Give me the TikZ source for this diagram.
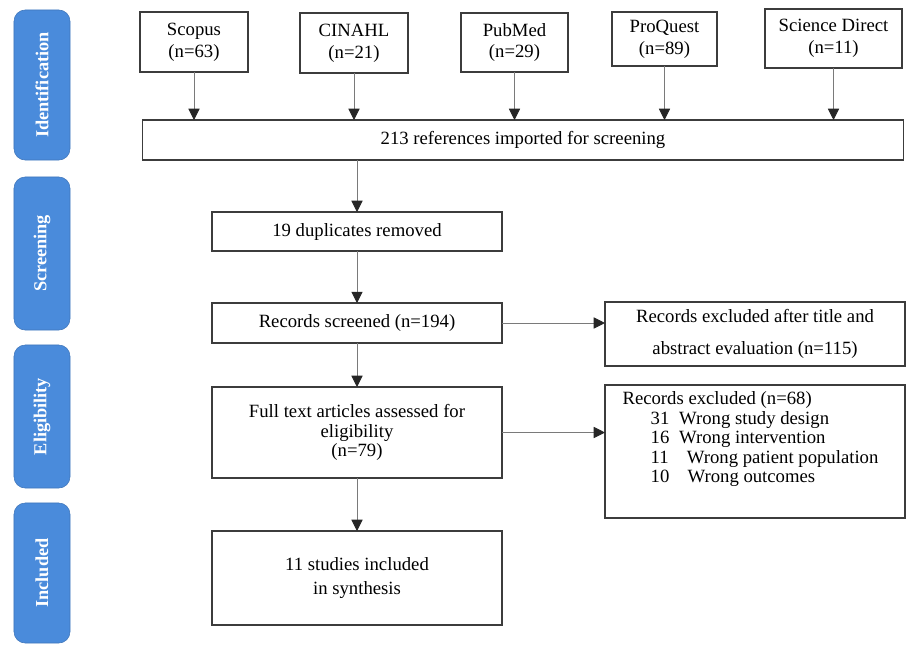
\documentclass[tikz,border=0pt]{standalone}
\usepackage{fontspec}
\setmainfont{Liberation Serif}
\usetikzlibrary{arrows.meta}
\definecolor{phaseblue}{HTML}{4A8BDB}
\definecolor{boxgray}{HTML}{3C3C3C}
\definecolor{linegray}{HTML}{7A7A7A}

\begin{document}
\begin{tikzpicture}[x=0.025cm,y=-0.025cm,
    every node/.style={font=\fontsize{13.3}{14}\selectfont,inner sep=0pt,outer sep=0pt},
    phase/.style={fill=phaseblue,draw=phaseblue!85!black,rounded corners=8pt,minimum height=1.4cm,rotate=90,text=white,font=\fontsize{13}{15}\selectfont\bfseries},
    flowbox/.style={draw=boxgray,line width=0.8pt,align=center},
    srcbox/.style={flowbox,font=\fontsize{13.3}{15.5}\selectfont},
    arr/.style={draw=linegray,line width=0.6pt,-{Triangle[width=8pt,length=8pt,color=black!85]}}]
    \useasboundingbox (0,0) rectangle (906,645);

    % phases
    \node[phase,minimum width=3.75cm] (ident) at (42,85) {Identification};
    \node[phase,minimum width=3.825cm] (screen) at (42,253.5) {Screening};
    \node[phase,minimum width=3.575cm] (elig) at (42,416.5) {Eligibility};
    \node[phase,minimum width=3.5cm] (incphase) at (42,573) {Included};

    % databases
    \node[srcbox,minimum width=2.7cm,minimum height=1.5cm] (scopus) at (194,42) {Scopus\\(n=63)};
    \node[srcbox,minimum width=2.7cm,minimum height=1.5cm] (cinahl) at (354,43) {CINAHL\\(n=21)};
    \node[srcbox,minimum width=2.675cm,minimum height=1.475cm] (pubmed) at (514.5,42.5) {PubMed\\(n=29)};
    \node[srcbox,minimum width=2.625cm,minimum height=1.35cm] (proquest) at (664.5,39) {ProQuest\\(n=89)};
    \node[srcbox,minimum width=3.425cm,minimum height=1.475cm] (scidir) at (833.5,38.5) {Science Direct\\(n=11)};

    % main flow
    \node[flowbox,minimum width=19cm,minimum height=1cm] (refs) at (523,140) {213 references imported for screening};
    \node[flowbox,minimum width=7.25cm,minimum height=0.975cm] (dup) at (357,231.5) {19 duplicates removed};
    \node[flowbox,minimum width=7.25cm,minimum height=1cm] (screened) at (357,323) {Records screened (n=194)};
    \node[flowbox,minimum width=7.25cm,minimum height=2.275cm,font=\fontsize{13.3}{14}\selectfont] (fulltext) at (357,432.5) {Full text articles assessed for\\eligibility\\(n=79)};
    \node[flowbox,minimum width=7.25cm,minimum height=2.35cm,font=\fontsize{13.3}{16.5}\selectfont] (incl) at (357,578) {11 studies included\\in synthesis};

    % exclusions
    \node[flowbox,minimum width=7.5cm,minimum height=1.6cm,font=\fontsize{13.3}{22.5}\selectfont] (excl1) at (755,334) {Records excluded after title and\\abstract evaluation (n=115)};
    \node[flowbox,minimum width=7.5cm,minimum height=3.325cm] (excl2) at (755,451.5) {};
    \node[anchor=north west,align=left,font=\fontsize{13.3}{13.8}\selectfont] (excl2txt) at ([xshift=12.5pt,yshift=-5pt]excl2.north west) {Records excluded (n=68)\\
        \hspace*{20pt}31\hspace{7pt}Wrong study design\\
        \hspace*{20pt}16\hspace{7pt}Wrong intervention\\
        \hspace*{20pt}11\hspace{13pt}Wrong patient population\\
        \hspace*{20pt}10\hspace{13pt}Wrong outcomes};

    \draw[arr] (scopus) -- (scopus |- refs.north);
    \draw[arr] (cinahl) -- (cinahl |- refs.north);
    \draw[arr] (pubmed) -- (pubmed |- refs.north);
    \draw[arr] (proquest) -- (proquest |- refs.north);
    \draw[arr] (scidir) -- (scidir |- refs.north);
    \draw[arr] (refs.south -| dup) -- (dup);
    \draw[arr] (dup) -- (screened);
    \draw[arr] (screened) -- (fulltext);
    \draw[arr] (fulltext) -- (incl);
    \draw[arr] (screened.east) -- (screened.east -| excl1.west);
    \draw[arr] (fulltext.east) -- (fulltext.east -| excl2.west);
\end{tikzpicture}
\end{document}
